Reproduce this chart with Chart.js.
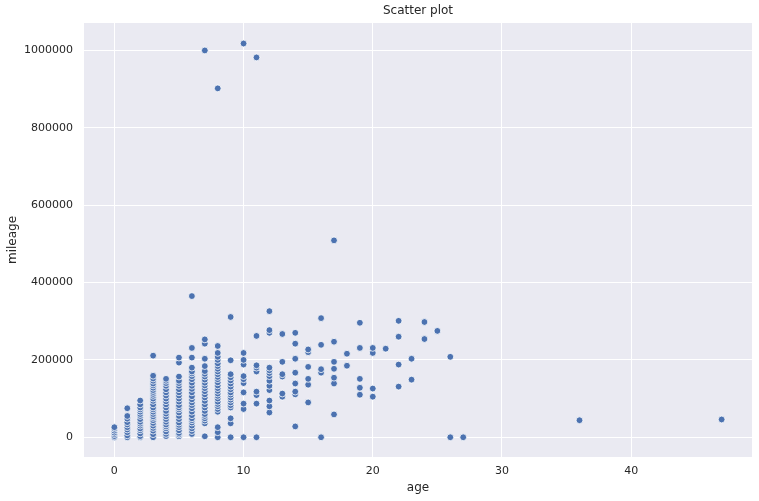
<!DOCTYPE html>
<html lang="en">
<head>
    <meta charset="UTF-8">
    <title>Scatter plot</title>
    <style>
        * {
            margin: 0;
            padding: 0;
            box-sizing: border-box;
        }
        body {
            background: #fff;
        }
        .chart-box {
            width: 759px;
            height: 501px;
        }
    </style>
    <script src="https://cdn.jsdelivr.net/npm/chart.js@4.4.1/dist/chart.umd.min.js"></script>
</head>
<body>
    <div class="chart-box">
        <canvas id="scatterChart" width="759" height="501"></canvas>
    </div>

    <script>
        // Data: mileage values grouped by age
        const ages = [0, 1, 2, 3, 4, 5, 6, 7, 8, 9, 10, 11, 12, 13, 14, 15, 16, 17, 18, 19, 20, 21, 22, 23, 24, 25, 26, 27, 36, 47];
        const mileageByAge = [
            [0, 3000, 8000, 12000, 17000, 22000, 26000],
            [0, 5000, 13000, 20000, 26000, 33000, 39000, 48000, 55000, 75000],
            [0, 3000, 10000, 18000, 23000, 30000, 35000, 40000, 47000, 55000, 60000, 66000, 72000, 77000, 85000, 95000],
            [0, 8000, 17000, 24000, 30000, 37000, 44000, 50000, 54000, 60000, 66000, 72000, 77000, 85000, 94000, 100000, 107000, 112000, 117000, 122000, 128000, 134000, 139000, 146000, 152000, 159000, 211000],
            [3000, 8500, 15000, 23000, 28000, 33000, 40000, 47000, 54000, 61000, 68000, 77000, 85000, 93000, 100000, 108000, 116000, 124000, 133000, 140000, 146000, 151000],
            [2500, 7000, 11000, 18000, 26000, 32000, 38000, 47000, 55000, 64000, 72000, 77000, 83000, 92000, 100000, 108000, 116000, 124000, 133000, 140000, 146000, 157000, 193000, 206000],
            [8500, 16000, 23000, 30000, 38000, 44000, 49000, 57000, 66000, 75000, 83000, 90000, 98000, 106000, 116000, 125000, 133000, 141000, 150000, 158000, 165000, 170000, 180000, 206000, 231000, 365000],
            [2500, 36000, 43000, 49000, 55000, 60000, 68000, 77000, 85000, 94000, 103000, 111000, 119000, 127000, 134000, 141000, 149000, 157000, 164000, 171000, 184000, 203000, 242000, 253000, 1000000],
            [0, 13000, 26000, 66000, 73000, 80000, 86000, 92000, 100000, 107000, 113000, 120000, 127000, 134000, 142000, 150000, 156000, 163000, 170000, 177000, 184000, 191000, 200000, 208000, 218000, 236000, 902000],
            [0, 36000, 49000, 77000, 83000, 90000, 97000, 103000, 110000, 116000, 124000, 131000, 139000, 147000, 155000, 163000, 199000, 311000],
            [0, 73000, 87000, 116000, 140000, 150000, 158000, 188000, 200000, 218000, 1018000],
            [0, 87000, 109000, 118000, 170000, 180000, 186000, 262000, 982000],
            [64000, 80000, 95000, 122000, 133000, 146000, 158000, 166000, 173000, 180000, 270000, 277000, 326000],
            [105000, 113000, 157000, 163000, 195000, 267000],
            [28000, 111000, 118000, 139000, 167000, 203000, 242000, 270000],
            [90000, 136000, 151000, 182000, 220000, 227000],
            [0, 167000, 176000, 239000, 308000],
            [59000, 139000, 154000, 177000, 195000, 247000, 509000],
            [185000, 216000],
            [110000, 128000, 151000, 231000, 296000],
            [105000, 126000, 218000, 231000],
            [229000],
            [131000, 188000, 260000, 301000],
            [149000, 203000],
            [254000, 298000],
            [275000],
            [0, 208000],
            [0],
            [44000],
            [46000]
        ];
        const xTickValues = [0, 10, 20, 30, 40];
        const yTickValues = [0, 200000, 400000, 600000, 800000, 1000000];

        // build point list for chart.js
        const points = [];
        ages.forEach((age, i) => {
            mileageByAge[i].forEach(m => points.push({ x: age, y: m }));
        });

        // seaborn-style grey plot background
        const plotBackground = {
            id: 'plotBackground',
            beforeDraw(chart) {
                const { ctx, chartArea } = chart;
                ctx.save();
                ctx.fillStyle = '#eaeaf2';
                ctx.fillRect(chartArea.left, chartArea.top, chartArea.right - chartArea.left, chartArea.bottom - chartArea.top);
                ctx.restore();
            }
        };

        const textColor = '#262626';
        const fontFamily = "'DejaVu Sans', sans-serif";

        const ctx = document.getElementById('scatterChart').getContext('2d');
        new Chart(ctx, {
            type: 'scatter',
            data: {
                datasets: [{
                    label: 'mileage',
                    data: points,
                    backgroundColor: '#4c72b0',
                    borderColor: '#ffffff',
                    borderWidth: 0.8,
                    pointRadius: 3.4,
                    pointHoverRadius: 3.4
                }]
            },
            options: {
                responsive: false,
                animation: false,
                layout: {
                    padding: { left: 0, right: 7, top: 0, bottom: 0 }
                },
                plugins: {
                    legend: { display: false },
                    tooltip: { enabled: false },
                    title: {
                        display: true,
                        text: 'Scatter plot',
                        fullSize: false,
                        color: textColor,
                        font: { family: fontFamily, size: 12, weight: 'normal' },
                        padding: { top: 4, bottom: 4.6 }
                    }
                },
                scales: {
                    x: {
                        type: 'linear',
                        min: -2.35,
                        max: 49.35,
                        afterBuildTicks: s => { s.ticks = xTickValues.map(v => ({ value: v })); },
                        afterFit: s => { s.height = 44; },
                        grid: { color: '#ffffff', lineWidth: 1, drawTicks: false },
                        border: { display: false },
                        ticks: {
                            color: textColor,
                            padding: 8,
                            font: { family: fontFamily, size: 11 },
                            callback: v => String(v)
                        },
                        title: {
                            display: true,
                            text: 'age',
                            color: textColor,
                            font: { family: fontFamily, size: 12 },
                            padding: { top: 0, bottom: 6 }
                        }
                    },
                    y: {
                        type: 'linear',
                        min: -51000,
                        max: 1071000,
                        afterBuildTicks: s => { s.ticks = yTickValues.map(v => ({ value: v })); },
                        afterFit: s => { s.width = 84; },
                        grid: { color: '#ffffff', lineWidth: 1, drawTicks: false },
                        border: { display: false },
                        ticks: {
                            color: textColor,
                            padding: 11,
                            font: { family: fontFamily, size: 11 },
                            callback: v => String(v)
                        },
                        title: {
                            display: true,
                            text: 'mileage',
                            color: textColor,
                            font: { family: fontFamily, size: 12 },
                            padding: { top: 6, bottom: 0 }
                        }
                    }
                }
            },
            plugins: [plotBackground]
        });
    </script>
</body>
</html>
